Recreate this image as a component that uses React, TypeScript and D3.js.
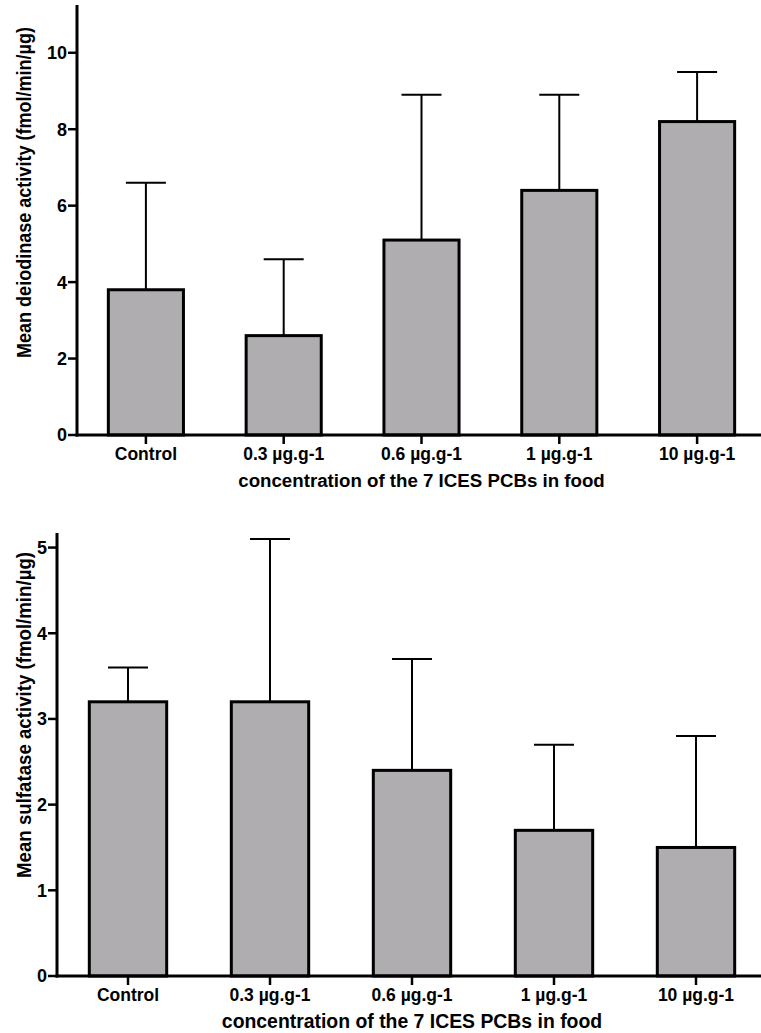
import React from "react";
import * as d3 from "d3";

const categories = ["Control", "0.3 µg.g-1", "0.6 µg.g-1", "1 µg.g-1", "10 µg.g-1"];
const deiodinaseMean = [3.8, 2.6, 5.1, 6.4, 8.2];
const deiodinaseErr = [6.6, 4.6, 8.9, 8.9, 9.5];
const deiodinaseTicks = [0, 2, 4, 6, 8, 10];
const sulfataseMean = [3.2, 3.2, 2.4, 1.7, 1.5];
const sulfataseErr = [3.6, 5.1, 3.7, 2.7, 2.8];
const sulfataseTicks = [0, 1, 2, 3, 4, 5];

const FONT = "'Liberation Sans', Arial, Helvetica, sans-serif";
const FILL = "#b0adb1";

type PanelProps = {
  means: number[];
  errs: number[];
  ticks: number[];
  yMax: number;
  x0: number;
  x1: number;
  yTop: number;
  yBottom: number;
  yTitle: string;
  yTitleY: number;
  yTitleLen: number;
  xTitleSize: number;
};

function Panel(p: PanelProps) {
  const x = d3
    .scaleBand<string>()
    .domain(categories)
    .range([p.x0, p.x1])
    .paddingInner(0.455)
    .paddingOuter(0.2275);
  const y = d3.scaleLinear().domain([0, p.yMax]).range([p.yBottom, p.yTop]);
  const bw = x.bandwidth();
  const capHalf = 20;
  return (
    <g>
      {categories.map((c, i) => {
        const cx = (x(c) as number) + bw / 2;
        return (
          <g key={c}>
            <line x1={cx} x2={cx} y1={y(p.means[i])} y2={y(p.errs[i])} stroke="#000" strokeWidth={2} />
            <line x1={cx - capHalf} x2={cx + capHalf} y1={y(p.errs[i])} y2={y(p.errs[i])} stroke="#000" strokeWidth={2} />
            <rect
              x={x(c)}
              y={y(p.means[i])}
              width={bw}
              height={y(0) - y(p.means[i])}
              fill={FILL}
              stroke="#000"
              strokeWidth={3}
            />
          </g>
        );
      })}
      {/* y axis */}
      <line x1={p.x0} x2={p.x0} y1={p.yTop} y2={p.yBottom + 1.5} stroke="#000" strokeWidth={3} />
      {p.ticks.map((t) => (
        <g key={t}>
          <line x1={p.x0 - 9} x2={p.x0} y1={y(t)} y2={y(t)} stroke="#000" strokeWidth={2.5} />
          <text
            x={p.x0 - 10}
            y={y(t)}
            dy="0.36em"
            textAnchor="end"
            fontFamily={FONT}
            fontWeight="bold"
            fontSize={18}
          >
            {t}
          </text>
        </g>
      ))}
      {/* x axis */}
      <line x1={p.x0 - 1.5} x2={p.x1} y1={p.yBottom} y2={p.yBottom} stroke="#000" strokeWidth={3} />
      {categories.map((c) => {
        const cx = (x(c) as number) + bw / 2;
        return (
          <g key={"t" + c}>
            <line x1={cx} x2={cx} y1={p.yBottom} y2={p.yBottom + 9} stroke="#000" strokeWidth={2.5} />
            <text
              x={cx}
              y={p.yBottom + 24.5}
              textAnchor="middle"
              fontFamily={FONT}
              fontWeight="bold"
              fontSize={17.5}
            >
              {c}
            </text>
          </g>
        );
      })}
      <text
        x={(p.x0 + p.x1) / 2}
        y={p.yBottom + 52}
        textAnchor="middle"
        fontFamily={FONT}
        fontWeight="bold"
        fontSize={p.xTitleSize}
      >
        concentration of the 7 ICES PCBs in food
      </text>
      <text
        transform={`translate(${31},${p.yTitleY}) rotate(-90)`}
        textAnchor="middle"
        fontFamily={FONT}
        fontWeight="bold"
        fontSize={20}
        textLength={p.yTitleLen}
        lengthAdjust="spacingAndGlyphs"
      >
        {p.yTitle}
      </text>
    </g>
  );
}

export default function App() {
  return (
    <div style={{ position: "absolute", left: 0, top: 0 }}>
      <svg width={761} height={1033} viewBox="0 0 761 1033" style={{ display: "block", background: "#fff" }}>
        <Panel
          means={deiodinaseMean}
          errs={deiodinaseErr}
          ticks={deiodinaseTicks}
          yMax={11.25}
          x0={77}
          x1={766}
          yTop={5}
          yBottom={435}
          yTitle="Mean deiodinase activity (fmol/min/µg)"
          yTitleY={192.5}
          yTitleLen={331}
          xTitleSize={18.7}
        />
        <Panel
          means={sulfataseMean}
          errs={sulfataseErr}
          ticks={sulfataseTicks}
          yMax={5.17}
          x0={57}
          x1={767}
          yTop={533}
          yBottom={976}
          yTitle="Mean sulfatase activity (fmol/min/µg)"
          yTitleY={715}
          yTitleLen={326}
          xTitleSize={19.4}
        />
      </svg>
    </div>
  );
}
